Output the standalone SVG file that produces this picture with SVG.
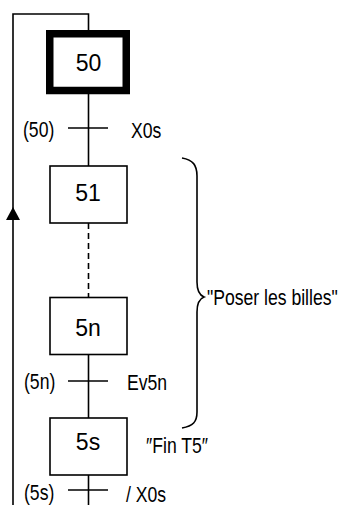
<svg xmlns="http://www.w3.org/2000/svg" width="339" height="505" viewBox="0 0 339 505">
  <style>
    .step { fill: #fff; stroke: #000; stroke-width: 1.6; }
    .init { fill: #fff; stroke: #000; stroke-width: 7.5; }
    .num { font-family: "Liberation Sans", Arial, sans-serif; font-size: 23px; text-anchor: middle; fill: #000; }
    .lbl { font-family: "Liberation Sans", Arial, sans-serif; font-size: 22px; fill: #000; }
    .wire { fill: none; stroke: #000; stroke-width: 1.6; }
  </style>

  <!-- links and transitions -->
  <g id="connectors">
    <!-- return loop from the last transition back to step 50 -->
    <path class="wire" d="M13 505 V14 H88.5 V30" stroke-width="2"/>
    <path d="M13 207 L20 220 L6 220 Z" fill="#000"/>
    <line class="wire" x1="88.5" y1="94" x2="88.5" y2="166"/>
    <line class="wire" x1="88.5" y1="223" x2="88.5" y2="297" stroke-dasharray="6 4"/>
    <line class="wire" x1="88.5" y1="354" x2="88.5" y2="418"/>
    <line class="wire" x1="88.5" y1="475" x2="88.5" y2="505"/>
    <!-- transition bars -->
    <line class="wire" x1="68" y1="128" x2="108" y2="128"/>
    <line class="wire" x1="68" y1="381" x2="108" y2="381"/>
    <line class="wire" x1="68" y1="490" x2="108" y2="490"/>
    <!-- brace grouping steps 51..5n -->
    <path class="wire" stroke-width="1.8" d="M182 158 C193 160 197 165 197 176 V282 C197 291 199 295 204 297 C199 299 197 303 197 312 V412 C197 422 193 426 182 428"/>
  </g>

  <g id="step-50">
    <rect class="init" x="49.75" y="33.75" width="76.5" height="56.75"/>
    <text class="num" x="88.5" y="70.5">50</text>
  </g>
  <g id="step-51">
    <rect class="step" x="50" y="166" width="77" height="57"/>
    <text class="num" x="88" y="201">51</text>
  </g>
  <g id="step-5n">
    <rect class="step" x="50" y="297.5" width="77" height="57"/>
    <text class="num" x="88" y="336">5n</text>
  </g>
  <g id="step-5s">
    <rect class="step" x="50" y="418" width="77" height="57"/>
    <text class="num" x="88" y="449.5">5s</text>
  </g>

  <!-- condensed labels -->
  <g id="labels">
    <text class="lbl" transform="translate(23 137) scale(0.8 1)">(50)</text>
    <text class="lbl" transform="translate(131 137.5) scale(0.8 1)">X0s</text>
    <text class="lbl" transform="translate(24 389) scale(0.8 1)">(5n)</text>
    <text class="lbl" transform="translate(127 389.5) scale(0.8 1)">Ev5n</text>
    <text class="lbl" transform="translate(24 500) scale(0.8 1)">(5s)</text>
    <text class="lbl" transform="translate(126 501.5) scale(0.8 1)">/ X0s</text>
    <text class="lbl" transform="translate(146 453) scale(0.8 1)">″Fin T5″</text>
    <text class="lbl" transform="translate(207 304.5) scale(0.8 1)">"Poser les billes"</text>
  </g>
</svg>
